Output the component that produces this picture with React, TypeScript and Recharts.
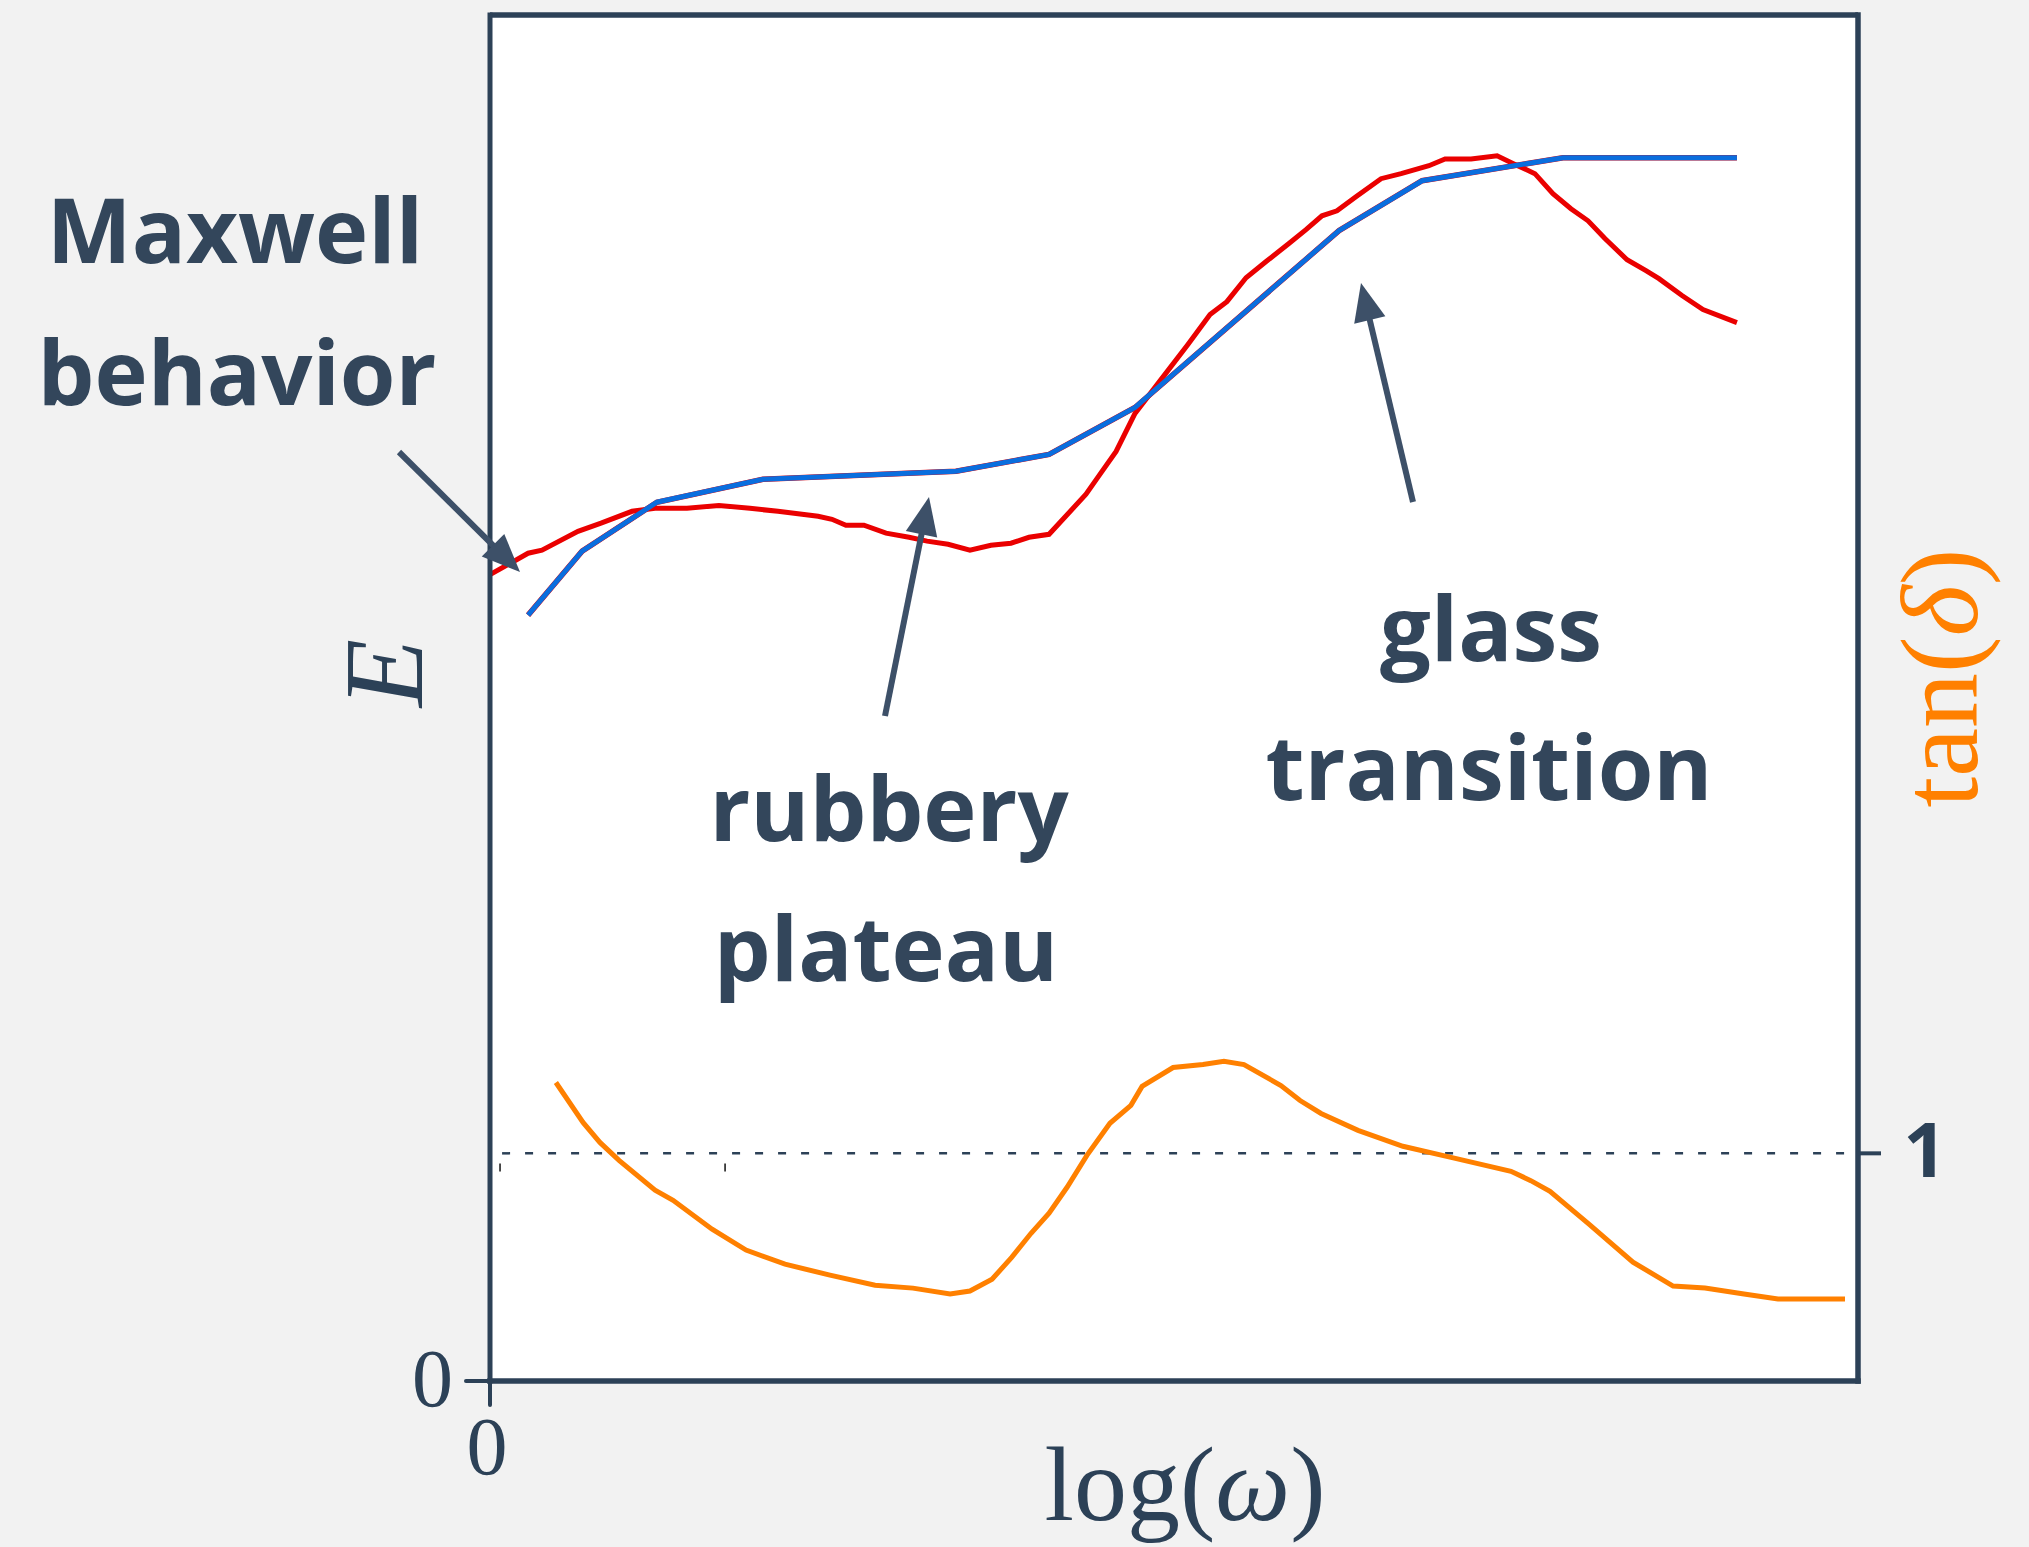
import React from 'react'
import {
  LineChart,
  Line,
  XAxis,
  YAxis,
  CartesianGrid,
  ReferenceLine,
} from 'recharts'

// storage modulus E' (blue), with a red copy drawn just under it
const storageModulus: [number, number][] = [
  [0.167, 3.364], [0.404, 3.645], [0.732, 3.86], [1.197, 3.961], [2.044, 3.996],
  [2.452, 4.07], [2.829, 4.276], [3.724, 5.053], [4.088, 5.272], [4.706, 5.373],
  [5.469, 5.373],
]

// noisy E curve (red)
const lossModulus: [number, number][] = [
  [0.004, 3.544], [0.167, 3.636], [0.228, 3.649], [0.386, 3.732], [0.487, 3.768],
  [0.623, 3.82], [0.724, 3.833], [0.864, 3.833], [1.004, 3.846], [1.14, 3.833],
  [1.263, 3.82], [1.439, 3.798], [1.5, 3.785], [1.561, 3.759], [1.64, 3.759],
  [1.737, 3.724], [1.838, 3.706], [1.917, 3.689], [2.009, 3.675], [2.105, 3.649],
  [2.197, 3.671], [2.285, 3.68], [2.364, 3.706], [2.452, 3.719], [2.614, 3.895],
  [2.675, 3.982], [2.746, 4.083], [2.829, 4.25], [2.947, 4.404], [3.061, 4.553],
  [3.158, 4.684], [3.232, 4.741], [3.316, 4.846], [3.404, 4.917], [3.504, 4.996],
  [3.579, 5.057], [3.649, 5.118], [3.715, 5.14], [3.798, 5.202], [3.908, 5.281],
  [3.996, 5.303], [4.118, 5.338], [4.189, 5.368], [4.303, 5.368], [4.417, 5.382],
  [4.491, 5.346], [4.583, 5.303], [4.662, 5.215], [4.741, 5.149], [4.816, 5.096],
  [4.89, 5.018], [4.987, 4.925], [5.07, 4.877], [5.127, 4.842], [5.228, 4.768],
  [5.32, 4.706], [5.469, 4.649],
]

// tan(delta) (orange), right axis
const tanDelta: [number, number][] = [
  [0.289, 1.311], [0.408, 1.136], [0.482, 1.048], [0.566, 0.969], [0.724, 0.838],
  [0.803, 0.794], [0.974, 0.667], [1.123, 0.575], [1.294, 0.513], [1.491, 0.465],
  [1.689, 0.421], [1.855, 0.408], [2.018, 0.382], [2.105, 0.395], [2.202, 0.447],
  [2.289, 0.544], [2.373, 0.649], [2.452, 0.737], [2.531, 0.851], [2.618, 0.991],
  [2.719, 1.132], [2.811, 1.211], [2.86, 1.294], [2.996, 1.377], [3.127, 1.39],
  [3.219, 1.404], [3.307, 1.39], [3.469, 1.298], [3.553, 1.232], [3.645, 1.175],
  [3.807, 1.101], [4.004, 1.031], [4.215, 0.982], [4.478, 0.921], [4.565, 0.88],
  [4.649, 0.833], [4.82, 0.689], [5.013, 0.522], [5.189, 0.417], [5.329, 0.408],
  [5.5, 0.382], [5.649, 0.36], [5.943, 0.36],
]

const xTicks = [0]
const leftTicks = [0]
const rightTicks = [1]
const minorTicks = [0.044, 1.031]

const NAVY = '#2c4157'
const TEXT = '#33465b'
const ARROW = '#3d5068'
const RED = '#ea0000'
const BLUE = '#0a6ede'
const ORANGE = '#ff8000'

const toPts = (arr: [number, number][]) => arr.map(([x, y]) => ({ x, y }))

const serif = '"Liberation Serif", "DejaVu Serif", serif'
const sans = '"Open Sans", Lato, sans-serif'

function Arrow({ x1, y1, x2, y2 }: { x1: number; y1: number; x2: number; y2: number }) {
  const dx = x2 - x1
  const dy = y2 - y1
  const len = Math.sqrt(dx * dx + dy * dy)
  const ux = dx / len
  const uy = dy / len
  const head = 38
  const half = 16
  const bx = x2 - ux * head
  const by = y2 - uy * head
  const pts = [
    [x2, y2],
    [bx - uy * half, by + ux * half],
    [bx + uy * half, by - ux * half],
  ]
    .map((p) => p.join(','))
    .join(' ')
  return (
    <g>
      <line x1={x1} y1={y1} x2={bx + ux * 4} y2={by + uy * 4} stroke={ARROW} strokeWidth={6} />
      <polygon points={pts} fill={ARROW} />
    </g>
  )
}

export default function App() {
  const leftTick = (p: any) => (
    <text x={p.x - 13} y={p.y + 25} textAnchor="end" fontFamily={serif} fontSize={82} fill={NAVY}>
      {p.payload.value}
    </text>
  )
  const bottomTick = (p: any) => (
    <text x={p.x - 3} y={p.y + 69} textAnchor="middle" fontFamily={serif} fontSize={82} fill={NAVY}>
      {p.payload.value}
    </text>
  )
  const rightTick = (p: any) => (
    <text x={p.x + 44} y={p.y + 24} textAnchor="middle" fontFamily={sans} fontWeight={700} fontSize={76} fill={NAVY}>
      {p.payload.value}
    </text>
  )

  return (
    <div style={{ position: 'absolute', left: 0, top: 0, width: 2029, height: 1547, background: '#f2f2f2' }}>
      <LineChart width={2029} height={1547} margin={{ top: 15, right: 170, bottom: 165, left: 489 }}>
        <CartesianGrid horizontal={false} vertical={false} fill="#ffffff" fillOpacity={1} />
        <XAxis
          type="number"
          dataKey="x"
          domain={[0, 6]}
          ticks={xTicks}
          height={1}
          tickSize={24}
          tickMargin={0}
          tick={bottomTick}
          axisLine={{ stroke: NAVY, strokeWidth: 5.5, strokeLinecap: 'square' }}
          tickLine={{ stroke: NAVY, strokeWidth: 4, strokeLinecap: 'round' }}
          allowDataOverflow
        />
        <YAxis
          yAxisId="left"
          type="number"
          domain={[0, 6]}
          ticks={leftTicks}
          width={1}
          tickSize={24}
          tickMargin={0}
          tick={leftTick}
          axisLine={{ stroke: NAVY, strokeWidth: 5, strokeLinecap: 'square' }}
          tickLine={{ stroke: NAVY, strokeWidth: 4, strokeLinecap: 'round' }}
          allowDataOverflow
        />
        <YAxis
          yAxisId="right"
          orientation="right"
          type="number"
          domain={[0, 6]}
          ticks={rightTicks}
          width={1}
          tickSize={23}
          tickMargin={0}
          tick={rightTick}
          axisLine={{ stroke: NAVY, strokeWidth: 5.5, strokeLinecap: 'square' }}
          tickLine={{ stroke: NAVY, strokeWidth: 4 }}
          allowDataOverflow
        />
        <ReferenceLine yAxisId="left" y={6} stroke={NAVY} strokeWidth={5.5} />
        <ReferenceLine
          yAxisId="right"
          segment={[{ x: 0.053, y: 1 }, { x: 6, y: 1 }]}
          stroke={NAVY}
          strokeWidth={2.5}
          strokeDasharray="8 15"
        />
        {minorTicks.map((t) => (
          <ReferenceLine
            key={t}
            yAxisId="right"
            segment={[{ x: t, y: 0.955 }, { x: t, y: 0.92 }]}
            stroke="#111"
            strokeWidth={1.5}
          />
        ))}
        <Line
          yAxisId="left"
          data={toPts(lossModulus)}
          dataKey="y"
          type="linear"
          stroke={RED}
          strokeWidth={5}
          dot={false}
          activeDot={false}
          isAnimationActive={false}
        />
        <Line
          yAxisId="left"
          data={toPts(storageModulus)}
          dataKey="y"
          type="linear"
          stroke={RED}
          strokeWidth={5.5}
          dot={false}
          activeDot={false}
          isAnimationActive={false}
        />
        <Line
          yAxisId="left"
          data={toPts(storageModulus)}
          dataKey="y"
          type="linear"
          stroke={BLUE}
          strokeWidth={5}
          dot={false}
          activeDot={false}
          isAnimationActive={false}
        />
        <Line
          yAxisId="right"
          data={toPts(tanDelta)}
          dataKey="y"
          type="linear"
          stroke={ORANGE}
          strokeWidth={5}
          dot={false}
          activeDot={false}
          isAnimationActive={false}
        />
      </LineChart>

      {/* annotations and axis titles */}
      <svg width={2029} height={1547} style={{ position: 'absolute', left: 0, top: 0, pointerEvents: 'none' }}>
        <g fontFamily={sans} fontWeight={700} fontSize={90} fill={TEXT} textAnchor="middle">
          <text x={235} y={263}>Maxwell</text>
          <text x={237} y={405}>behavior</text>
          <text x={889} y={841}>rubbery</text>
          <text x={886} y={981}>plateau</text>
          <text x={1491} y={661}>glass</text>
          <text x={1489} y={800}>transition</text>
        </g>
        <Arrow x1={399} y1={452} x2={520} y2={572} />
        <Arrow x1={885} y1={716} x2={929} y2={497} />
        <Arrow x1={1413} y1={502} x2={1361} y2={283} />

        <text x={1185} y={1520} textAnchor="middle" fontFamily={serif} fontSize={106} fill={NAVY}>
          log(<tspan fontStyle="italic">ω</tspan>)
        </text>
        <text
          x={422}
          y={673}
          transform="rotate(-90 422 673)"
          textAnchor="middle"
          fontFamily={serif}
          fontStyle="italic"
          fontSize={112}
          fill={NAVY}
        >
          E
        </text>
        <text
          x={1977}
          y={678}
          transform="rotate(-90 1977 678)"
          textAnchor="middle"
          fontFamily={serif}
          fontSize={110}
          fill={ORANGE}
        >
          tan(<tspan fontStyle="italic">δ</tspan>)
        </text>
      </svg>
    </div>
  )
}
